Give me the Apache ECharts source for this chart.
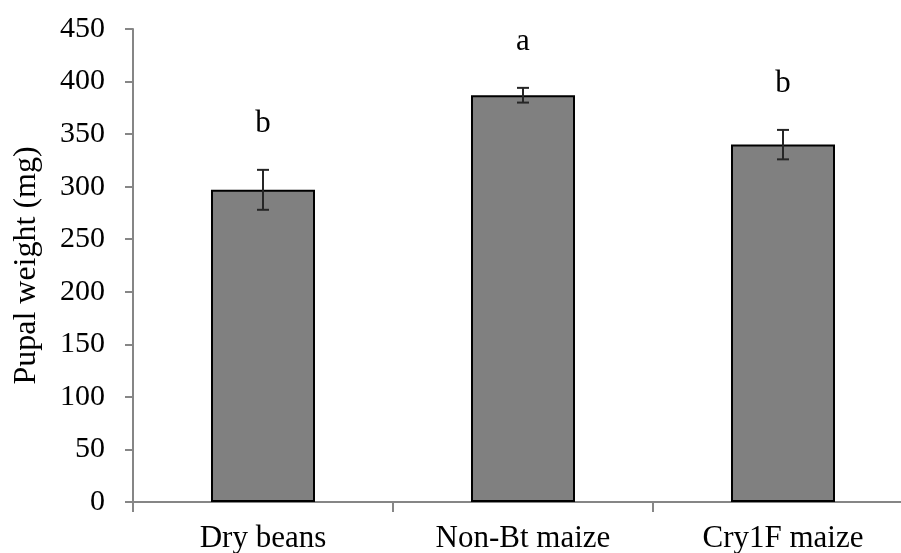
<!DOCTYPE html>
<html><head><meta charset="utf-8">
<script src="https://cdn.jsdelivr.net/npm/echarts@6/dist/echarts.min.js"></script>
<style>html,body{margin:0;padding:0;background:#fff}#c{width:901px;height:553px}</style>
</head><body><div id="c"></div>
<script>
var categories = ['Dry beans', 'Non-Bt maize', 'Cry1F maize'];
var values = [297, 387, 340];
var errors = [19, 7, 14];
var letters = ['b', 'a', 'b'];
var yTicks = [0, 50, 100, 150, 200, 250, 300, 350, 400, 450];

var FONT = 'Liberation Serif';
var chart = echarts.init(document.getElementById('c'));
var errData = values.map(function (v, i) { return [i, v - errors[i], v + errors[i], letters[i]]; });

chart.setOption({
  animation: false,
  grid: { left: 133, width: 780, top: 29, bottom: 51, outerBoundsMode: 'none', containLabel: false },
  xAxis: {
    type: 'category', data: categories,
    axisLine: { lineStyle: { color: '#868686', width: 2 } },
    axisTick: { show: true, length: 10, lineStyle: { color: '#868686', width: 2 } },
    axisLabel: { color: '#000', fontFamily: FONT, fontSize: 31, margin: 21 }
  },
  yAxis: {
    type: 'value', min: 0, max: 450, interval: 50,
    name: 'Pupal weight (mg)', nameLocation: 'middle', nameGap: 90, nameRotate: 90,
    nameTextStyle: { color: '#000', fontFamily: FONT, fontSize: 32 },
    axisLine: { show: true, lineStyle: { color: '#868686', width: 2 } },
    axisTick: { show: true, length: 8, lineStyle: { color: '#868686', width: 2 } },
    splitLine: { show: false },
    axisLabel: { color: '#000', fontFamily: FONT, fontSize: 30, margin: 28,
      formatter: function (v) { return yTicks.indexOf(v) >= 0 ? String(v) : ''; } }
  },
  series: [{
    type: 'bar', data: values, barWidth: '40%', z: 2,
    itemStyle: { color: '#808080', borderColor: '#000', borderWidth: 2 }
  }, {
    type: 'custom', data: errData, z: 5,
    encode: { x: 0, y: [1, 2] },
    renderItem: function (params, api) {
      var x = api.value(0);
      var lo = api.coord([x, api.value(1)]);
      var hi = api.coord([x, api.value(2)]);
      var cw = 6;
      var st = { stroke: '#262626', lineWidth: 2 };
      return { type: 'group', children: [
        { type: 'line', shape: { x1: hi[0], y1: hi[1], x2: lo[0], y2: lo[1] }, style: st },
        { type: 'line', shape: { x1: hi[0] - cw, y1: hi[1], x2: hi[0] + cw, y2: hi[1] }, style: st },
        { type: 'line', shape: { x1: lo[0] - cw, y1: lo[1], x2: lo[0] + cw, y2: lo[1] }, style: st },
        { type: 'text', x: hi[0], y: hi[1] - 46, style: { text: api.value(3), fill: '#000',
          font: '31px "' + FONT + '"', textAlign: 'center', textVerticalAlign: 'middle' } }
      ]};
    }
  }]
});
</script></body></html>
